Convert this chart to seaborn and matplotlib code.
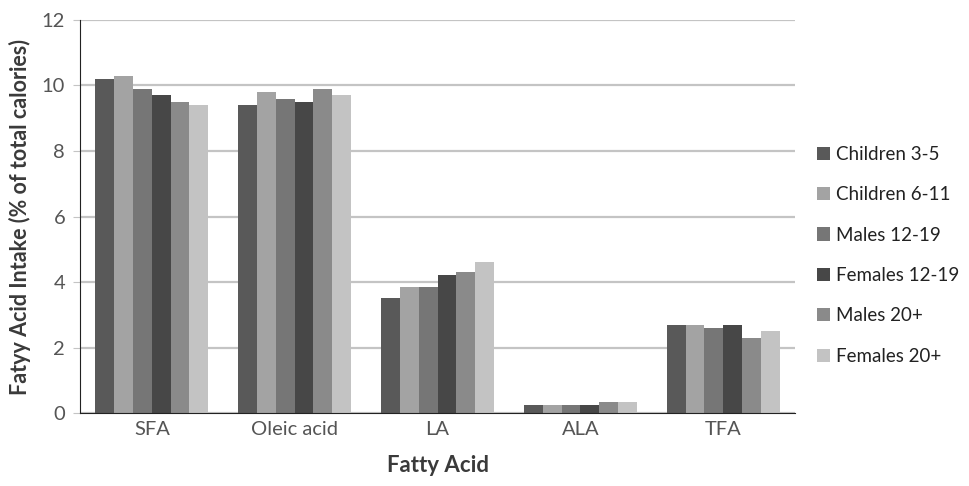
import pandas as pd
import matplotlib.pyplot as plt
import seaborn as sns

# Data
acids = ["SFA", "Oleic acid", "LA", "ALA", "TFA"]
groups = ["Children 3-5", "Children 6-11", "Males 12-19",
          "Females 12-19", "Males 20+", "Females 20+"]
children_3_5 = [10.2, 9.4, 3.5, 0.25, 2.7]
children_6_11 = [10.3, 9.8, 3.85, 0.25, 2.7]
males_12_19 = [9.9, 9.6, 3.85, 0.25, 2.6]
females_12_19 = [9.7, 9.5, 4.2, 0.25, 2.7]
males_20 = [9.5, 9.9, 4.3, 0.35, 2.3]
females_20 = [9.4, 9.7, 4.6, 0.35, 2.5]

colors = ["#595959", "#a3a3a3", "#767676", "#474747", "#8a8a8a", "#c3c3c3"]

df = pd.DataFrame({"Fatty Acid": acids,
                   groups[0]: children_3_5, groups[1]: children_6_11,
                   groups[2]: males_12_19, groups[3]: females_12_19,
                   groups[4]: males_20, groups[5]: females_20})
df_long = df.melt(id_vars="Fatty Acid", var_name="Group", value_name="Intake")

sns.set_style("white")
plt.rcParams["font.family"] = ["Lato", "DejaVu Sans"]

fig = plt.figure(figsize=(9.69, 4.86), dpi=100)
ax = fig.add_axes([0.083, 0.15, 0.737, 0.809])

sns.barplot(data=df_long, x="Fatty Acid", y="Intake", hue="Group",
            hue_order=groups, palette=colors, width=0.79, saturation=1,
            edgecolor="none", ax=ax)

ax.set_ylim(0, 12)
ax.set_yticks(range(0, 13, 2))
ax.yaxis.grid(True, color="#c4c4c4", linewidth=1.6)
ax.set_axisbelow(True)
for s in ["top", "right"]:
    ax.spines[s].set_visible(False)
ax.spines["left"].set_color("#222222")
ax.spines["bottom"].set_color("#222222")
ax.tick_params(axis="both", labelsize=14.5, colors="#555555", length=0, pad=6)
ax.tick_params(axis="y", left=True, length=5, color="#c4c4c4")

ax.set_xlabel("Fatty Acid", fontsize=16, fontweight="bold", color="#3a3a3a", labelpad=12)
ax.set_ylabel("Fatyy Acid Intake (% of total calories)", fontsize=15.5,
              fontweight="bold", color="#3a3a3a", labelpad=8)

handles, labels = ax.get_legend_handles_labels()
ax.legend_.remove()
fig.legend(handles, labels, loc="upper left", bbox_to_anchor=(0.826, 0.735),
           frameon=False, fontsize=13.5, labelspacing=1.25, handlelength=0.7,
           handleheight=0.7, handletextpad=0.3, labelcolor="#222222")

plt.savefig("out.png", dpi=100)
